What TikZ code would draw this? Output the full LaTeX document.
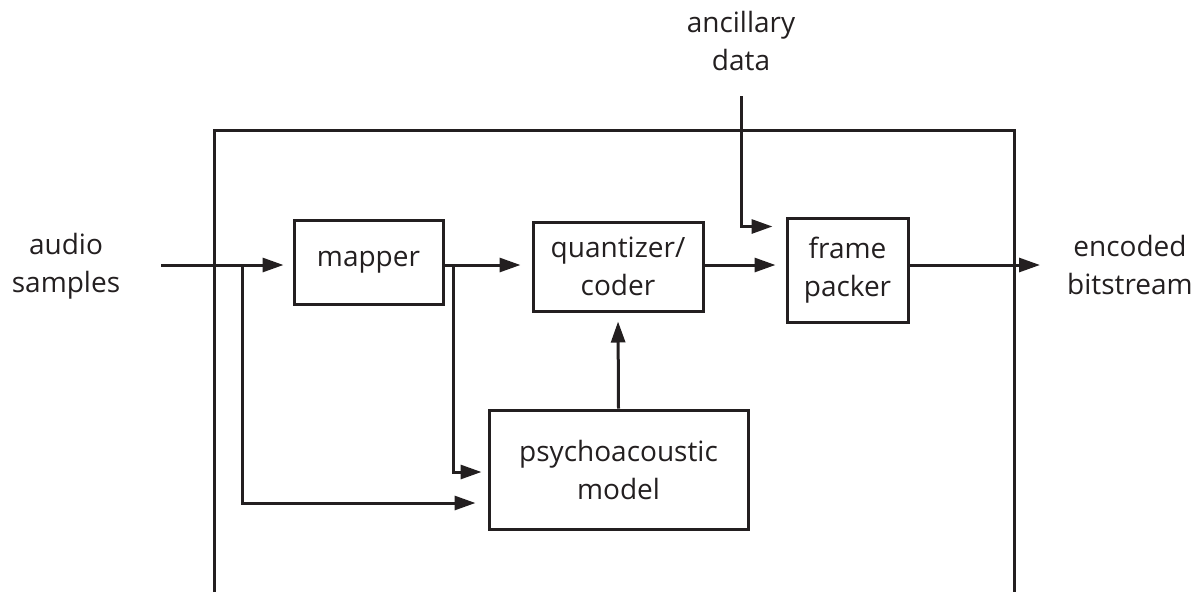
\documentclass[tikz,border=0pt]{standalone}
\usepackage{fontspec}
\setmainfont{Open Sans}
\usetikzlibrary{arrows.meta,calc}
\definecolor{ink}{HTML}{231F20}
\begin{document}
\begin{tikzpicture}[x=1pt,y=-1pt,
  every node/.style={font=\fontsize{28}{38}\selectfont, text=ink},
  blk/.style={draw=ink, line width=3pt, align=center, inner sep=0pt},
  lbl/.style={align=center, inner sep=0pt},
  wire/.style={draw=ink, line width=3pt},
  arr/.style={wire, -{Triangle[length=21pt,width=14pt]}}]
\useasboundingbox (0,0) rectangle (1200,592);
% outer frame
\draw[wire] (214,592) -- (214,130) -- (1014,130) -- (1014,592);
% blocks
\node[blk, minimum width=149pt, minimum height=84pt] (mapper) at (368.5,262) {mapper};
\node[blk, minimum width=170pt, minimum height=89pt] (quant) at (618,266.5) {quantizer/\\coder};
\node[blk, minimum width=121pt, minimum height=104pt] (frame) at (847.5,270) {frame\\packer};
\node[blk, minimum width=259pt, minimum height=119pt] (psych) at (618.5,469.5) {psychoacoustic\\model};
% labels
\node[lbl] (audio) at (66,266) {audio\\samples};
\node[lbl] (enc) at (1130,265) {encoded\\bitstream};
\node[lbl] (anclbl) at (741,41) {ancillary\\data};
% coordinates
\coordinate (in) at (161,265);
\coordinate (out) at (1040,265);
\coordinate (anc) at (741,96);
\coordinate (b1) at (242,265);
\coordinate (b2) at (453,265);
% connectors
\draw[arr, shorten >=9pt] (in) -- (mapper.west |- in);
\draw[arr, shorten >=11pt] (mapper.east |- in) -- (quant.west |- in);
\draw[arr, shorten >=10pt] (quant.east |- in) -- (frame.west |- in);
\draw[arr] (frame.east |- in) -- (out);
\draw[arr, shorten >=13pt] (anc) |- ([yshift=-10pt]frame.north west);
\draw[arr, shorten >=12pt] (b1) |- ([yshift=-33.5pt]psych.west);
\draw[arr, shorten >=6pt] (b2) |- ([yshift=-2.5pt]psych.west);
\draw[arr, shorten >=9pt] (psych.north) -- (quant.south);
\end{tikzpicture}
\end{document}
